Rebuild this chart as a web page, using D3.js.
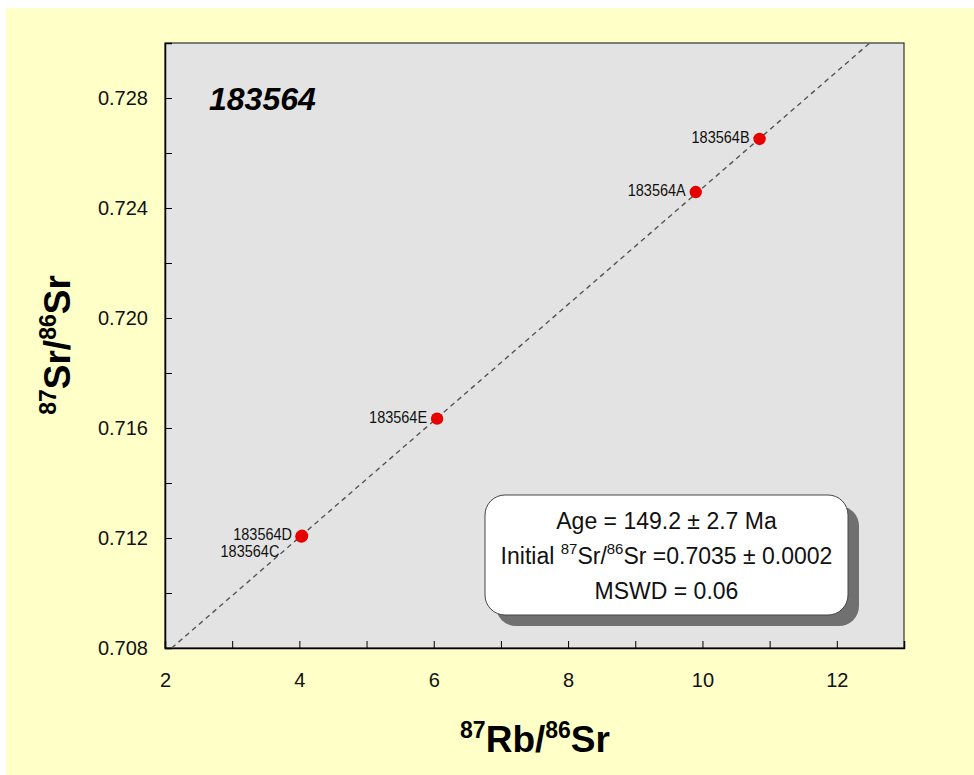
<!DOCTYPE html>
<html><head><meta charset="utf-8">
<script src="https://cdn.jsdelivr.net/npm/d3@7"></script>
<style>
body{margin:0;padding:0;background:#fff;}
svg text{font-family:"Liberation Sans",Arial,sans-serif;}
</style></head>
<body>
<svg id="chart" width="974" height="775"></svg>
<script>
// ---- data ----
const sampleNames = ["183564A","183564B","183564C","183564D","183564E"];
const rbSr = [9.90, 10.85, 4.03, 4.04, 6.05];
const srSr = [0.72458, 0.72651, 0.71205, 0.71208, 0.71634];
const isochronX = [2.1, 12.49];
const isochronY = [0.708, 0.730];
const xTicks = [2,3,4,5,6,7,8,9,10,11,12];
const xTickLabels = [2,4,6,8,10,12];
const yTicks = [0.708,0.710,0.712,0.714,0.716,0.718,0.720,0.722,0.724,0.726,0.728];
const yTickLabels = [0.708,0.712,0.716,0.720,0.724,0.728];
const sampleId = "183564";
const resultLines = ["Age = 149.2 ± 2.7 Ma", "Initial |87|Sr/|86|Sr =0.7035 ± 0.0002", "MSWD = 0.06"];

// ---- layout ----
const svg = d3.select("#chart");
const m = {left:165, top:43, right:70, bottom:127};
const W = 974 - m.left - m.right, H = 775 - m.top - m.bottom;

svg.append("rect").attr("x",6).attr("y",8).attr("width",968).attr("height",767).attr("fill","#FFFFC8");

const x = d3.scaleLinear().domain([2,13]).range([m.left, m.left+W]);
const y = d3.scaleLinear().domain([0.708,0.730]).range([m.top+H, m.top]);

const g = svg.append("g");
g.append("rect").attr("x",m.left).attr("y",m.top).attr("width",W).attr("height",H)
 .attr("fill","#E3E3E3").attr("stroke","#333").attr("stroke-width",1.2);

// axes with inward ticks
const xAxis = d3.axisBottom(x).tickValues(xTicks).tickSize(-7)
  .tickFormat(d => xTickLabels.includes(d) ? d : "");
const xg = g.append("g").attr("transform",`translate(0,${m.top+H})`).call(xAxis);
xg.select(".domain").attr("stroke","#000").attr("stroke-width",1.5);
xg.selectAll(".tick line").attr("stroke","#000");
xg.selectAll(".tick text").attr("font-size",20).attr("y",0).attr("dy","1.95em").attr("fill","#111");

const yAxis = d3.axisLeft(y).tickValues(yTicks).tickSize(-7)
  .tickFormat(d => yTickLabels.some(v=>Math.abs(v-d)<1e-9) ? d3.format(".3f")(d) : "");
const yg = g.append("g").attr("transform",`translate(${m.left},0)`).call(yAxis);
yg.select(".domain").attr("stroke","#000").attr("stroke-width",1.5);
yg.selectAll(".tick line").attr("stroke","#000");
yg.selectAll(".tick text").attr("font-size",20).attr("x",-17).attr("fill","#111");

// isochron line
const line = d3.line().x(d=>x(d[0])).y(d=>y(d[1]));
g.append("path").datum(isochronX.map((v,i)=>[v,isochronY[i]]))
 .attr("d",line).attr("stroke","#555").attr("stroke-width",1.4)
 .attr("stroke-dasharray","5,4").attr("fill","none");

// points
const pts = sampleNames.map((n,i)=>({n, x:rbSr[i], y:srSr[i]}));
g.selectAll("circle.pt").data(pts).join("circle").attr("class","pt")
 .attr("cx",d=>x(d.x)).attr("cy",d=>y(d.y)).attr("r",6.2).attr("fill","#E60000");
g.selectAll("text.lbl").data(pts).join("text").attr("class","lbl")
 .attr("text-anchor","end").attr("font-size",14.5).attr("fill","#111")
 .attr("transform",d=>`translate(${x(d.x) - (d.n==="183564C"?22:10)},${y(d.y) + (d.n==="183564C"?20.5:4)}) scale(1,1.08)`)
 .text(d=>d.n);

// sample id title
g.append("text").attr("x",209).attr("y",110).attr("font-size",32)
 .attr("font-weight","bold").attr("font-style","italic").attr("fill","#000").text(sampleId);

// results box
const bx=485, by=495, bw=363, bh=120;
g.append("rect").attr("x",bx+11).attr("y",by+11).attr("width",bw).attr("height",bh)
 .attr("rx",20).attr("fill","#707070");
g.append("rect").attr("x",bx).attr("y",by).attr("width",bw).attr("height",bh)
 .attr("rx",20).attr("fill","#fff").attr("stroke","#444").attr("stroke-width",1);
function richText(sel, str, supSize){
  const parts = str.split("|");
  parts.forEach((p,i)=>{
    if(!p) return;
    const isSup = i%2===1;
    const t = sel.append("tspan").text(p);
    if(isSup){ t.attr("font-size",supSize).attr("dy",-10); }
    else if(i>0){ t.attr("dy",10); }
  });
}
resultLines.forEach((s,i)=>{
  const t = g.append("text").attr("x",bx+bw/2).attr("y",529+i*35)
    .attr("text-anchor","middle").attr("font-size",23).attr("fill","#111");
  richText(t, s, 15);
});

// axis titles
const xt = svg.append("text").attr("x",535).attr("y",752).attr("text-anchor","middle")
 .attr("font-size",37).attr("font-weight","bold").attr("fill","#000");
xt.append("tspan").text("87").attr("font-size",23).attr("dy",-14);
xt.append("tspan").text("Rb/").attr("dy",14);
xt.append("tspan").text("86").attr("font-size",23).attr("dy",-14);
xt.append("tspan").text("Sr").attr("dy",14);

const yt = svg.append("text").attr("transform","translate(70,345) rotate(-90)")
 .attr("text-anchor","middle").attr("font-size",37).attr("font-weight","bold").attr("fill","#000");
yt.append("tspan").text("87").attr("font-size",23).attr("dy",-14);
yt.append("tspan").text("Sr/").attr("dy",14);
yt.append("tspan").text("86").attr("font-size",23).attr("dy",-14);
yt.append("tspan").text("Sr").attr("dy",14);
</script>
</body></html>
